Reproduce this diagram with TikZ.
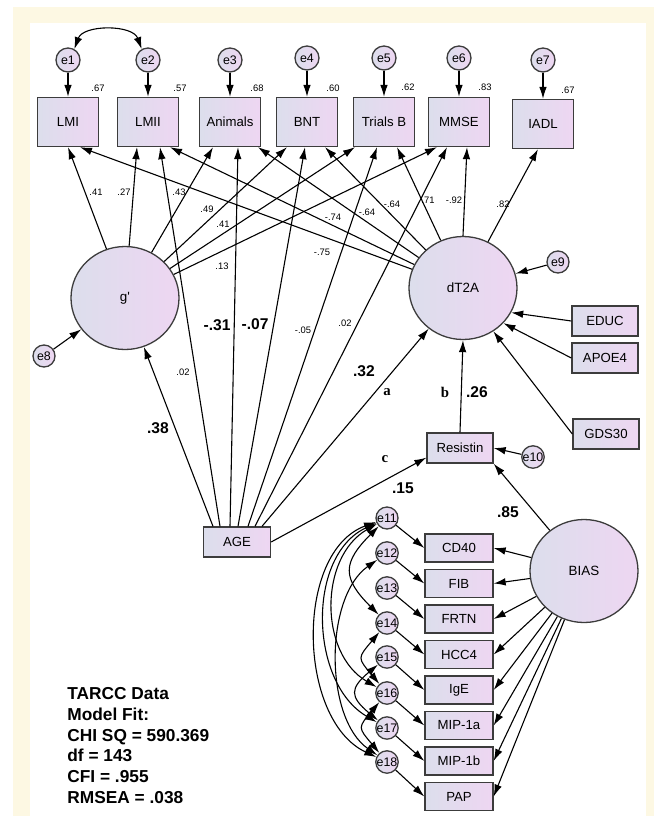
\documentclass[tikz,border=0pt]{standalone}
\usepackage{fontspec}
\setmainfont{Liberation Sans}
\newfontfamily\letterfont{Liberation Serif}
\usetikzlibrary{arrows.meta,shapes.geometric}

\definecolor{cream}{RGB}{253,248,227}
\definecolor{shadeleft}{RGB}{220,222,236}
\definecolor{shaderight}{RGB}{238,214,242}
\definecolor{rim}{RGB}{60,60,60}

\begin{document}
\begin{tikzpicture}
    [x=0.5pt,y=-0.5pt,
    obs/.style={rectangle,draw=rim,line width=0.65pt,left color=shadeleft,right color=shaderight,
    inner sep=0pt,minimum width=30.5pt,minimum height=24.5pt,font=\fontsize{6.6}{8}\selectfont},
    side/.style={obs,minimum width=33pt,minimum height=15pt},
    column/.style={obs,minimum width=34pt,minimum height=14pt},
    lat/.style={ellipse,draw=rim,line width=0.65pt,left color=shadeleft,right color=shaderight,
    inner sep=0pt,minimum width=54pt,minimum height=51.5pt,font=\fontsize{6.7}{8}\selectfont},
    err/.style={circle,draw=rim,line width=0.65pt,left color=shadeleft,right color=shaderight,
    inner sep=0pt,minimum size=12pt,font=\fontsize{6.2}{7}\selectfont},
    smallerr/.style={err,minimum size=11pt},
    regress/.style={draw,line width=0.55pt,-{Latex[length=6pt,width=3.8pt]}},
    cov/.style={draw,line width=0.55pt,{Latex[length=6pt,width=3.8pt]}-{Latex[length=6pt,width=3.8pt]}},
    coef/.style={inner sep=0pt,font=\fontsize{4.7}{5}\selectfont},
    coefbig/.style={inner sep=0pt,font=\fontsize{7.8}{9}\selectfont\bfseries},
    letter/.style={inner sep=0pt,font=\letterfont\fontsize{7.4}{9}\selectfont\bfseries},
    fitline/.style={anchor=base west,inner sep=0pt,font=\fontsize{8.65}{10}\selectfont\bfseries}]
    \useasboundingbox (0,0) rectangle (654,816);
    \fill[cream] (13,7) rectangle (654,816);
    \fill[white] (30,23) rectangle (646,816);

    \node (LMI) [obs] at (68,122) {LMI};
    \node (LMII) [obs] at (148,122) {LMII};
    \node (Animals) [obs] at (230,122) {Animals};
    \node (BNT) [obs] at (307,122) {BNT};
    \node (TrialsB) [obs] at (384,122) {Trials B};
    \node (MMSE) [obs] at (459,122) {MMSE};
    \node (IADL) [obs] at (543,124) {IADL};

    \node (e1) [err] at (68,60) {e1};
    \node (e2) [err] at (148,60) {e2};
    \node (e3) [err] at (230,60) {e3};
    \node (e4) [err] at (307,58) {e4};
    \node (e5) [err] at (384,58) {e5};
    \node (e6) [err] at (459,58) {e6};
    \node (e7) [err] at (543,60) {e7};

    \node (gprime) [lat] at (125,298) {g\textquotesingle};
    \node (dT2A) [lat] at (463,288) {dT2A};
    \node (BIAS) [lat] at (584,571) {BIAS};
    \node (e8) [smallerr] at (44,356) {e8};
    \node (e9) [smallerr] at (558,262) {e9};
    \node (e10) [smallerr] at (533,457) {e10};

    \node (EDUC) [side] at (605,321) {EDUC};
    \node (APOE4) [side] at (605,358) {APOE4};
    \node (GDS30) [side] at (606,434) {GDS30};
    \node (Resistin) [side] at (460,448) {Resistin};
    \node (AGE) [side,minimum width=33.5pt] at (237,542) {AGE};

    \node (CD40) [column] at (459,548) {CD40};
    \node (FIB) [column] at (459,583.5) {FIB};
    \node (FRTN) [column] at (459,619) {FRTN};
    \node (HCC4) [column] at (459,654.5) {HCC4};
    \node (IgE) [column] at (459,690) {IgE};
    \node (MIPa) [column] at (459,725.5) {MIP-1a};
    \node (MIPb) [column] at (459,761) {MIP-1b};
    \node (PAP) [column] at (459,796.5) {PAP};

    \node (e11) [smallerr] at (387,518) {e11};
    \node (e12) [smallerr] at (387,553) {e12};
    \node (e13) [smallerr] at (387,588) {e13};
    \node (e14) [smallerr] at (387,623) {e14};
    \node (e15) [smallerr] at (387,657) {e15};
    \node (e16) [smallerr] at (387,693) {e16};
    \node (e17) [smallerr] at (387,728) {e17};
    \node (e18) [smallerr] at (387,762) {e18};

    \draw [cov] (e1.60) to[out=70,in=110] (e2.120);
    \draw [regress] (e1) -- (LMI);
    \draw [regress] (e2) -- (LMII);
    \draw [regress] (e3) -- (Animals);
    \draw [regress] (e4) -- (BNT);
    \draw [regress] (e5) -- (TrialsB);
    \draw [regress] (e6) -- (MMSE);
    \draw [regress] (e7) -- (IADL);

    \draw [regress] (gprime) -- (LMI.south);
    \draw [regress] (gprime) -- ([xshift=-5.5pt]LMII.south);
    \draw [regress] (gprime) -- ([xshift=-8.5pt]Animals.south);
    \draw [regress] (gprime) -- ([xshift=-10pt]BNT.south);
    \draw [regress] (gprime) -- ([xshift=-14.5pt]TrialsB.south);
    \draw [regress] (gprime) -- ([xshift=-11pt]MMSE.south);

    \draw [regress] (dT2A) -- ([xshift=6pt]LMI.south);
    \draw [regress] (dT2A) -- ([xshift=11pt]LMII.south);
    \draw [regress] (dT2A) -- ([xshift=14pt]Animals.south);
    \draw [regress] (dT2A) -- ([xshift=9pt]BNT.south);
    \draw [regress] (dT2A) -- ([xshift=6.5pt]TrialsB.south);
    \draw [regress] (dT2A.north) -- ([xshift=4pt]MMSE.south);
    \draw [regress] (dT2A) -- ([xshift=-2.5pt]IADL.south);

    \draw [regress] ([xshift=-12pt]AGE.north) -- (gprime);
    \draw [regress] ([xshift=-8.5pt]AGE.north) -- ([xshift=6pt]LMII.south);
    \draw [regress] ([xshift=-3.5pt]AGE.north) -- ([xshift=4pt]Animals.south);
    \draw [regress] ([xshift=0.5pt]AGE.north) -- ([xshift=-1pt]BNT.south);
    \draw [regress] ([xshift=5.5pt]AGE.north) -- ([xshift=-3.5pt]TrialsB.south);
    \draw [regress] ([xshift=9pt]AGE.north) -- ([xshift=-6pt]MMSE.south);
    \draw [regress] ([xshift=12.5pt]AGE.north) -- (dT2A);
    \draw [regress] (AGE.east) -- ([yshift=3pt]Resistin.south west);

    \draw [regress] (e8) -- (gprime);
    \draw [regress] (e9) -- (dT2A);
    \draw [regress] (EDUC.west) -- (dT2A.-27);
    \draw [regress] (APOE4.west) -- (dT2A.-41);
    \draw [regress] (GDS30.west) -- (dT2A.-55);
    \draw [regress] (Resistin.north) -- (dT2A.south);
    \draw [regress] (e10) -- (Resistin.east);
    \draw [regress] (BIAS) -- (Resistin.south east);

    \draw [regress] (BIAS) -- (CD40.east);
    \draw [regress] (BIAS) -- (FIB.east);
    \draw [regress] (BIAS) -- (FRTN.east);
    \draw [regress] (BIAS) -- (HCC4.east);
    \draw [regress] (BIAS) -- (IgE.east);
    \draw [regress] (BIAS) -- (MIPa.east);
    \draw [regress] (BIAS) -- (MIPb.east);
    \draw [regress] (BIAS) -- (PAP.east);

    \draw [regress] (e11) -- (CD40.west);
    \draw [regress] (e12) -- (FIB.west);
    \draw [regress] (e13) -- (FRTN.west);
    \draw [regress] (e14) -- (HCC4.west);
    \draw [regress] (e15) -- (IgE.west);
    \draw [regress] (e16) -- (MIPa.west);
    \draw [regress] (e17) -- (MIPb.west);
    \draw [regress] (e18) -- (PAP.west);

    \draw [cov] (e11) to[out=225,in=135,looseness=1.5] (e14);
    \draw [cov] (e11) to[out=210,in=150,looseness=1.05] (e16);
    \draw [cov] (e11) to[out=205,in=150,looseness=1] (e17);
    \draw [cov] (e11) to[out=200,in=155,looseness=0.95] (e18);
    \draw [cov] (e12) to[out=215,in=145,looseness=0.85] (e18);
    \draw [cov] (e14) to[out=230,in=130,looseness=1.7] (e16);
    \draw [cov] (e15) to[out=220,in=140,looseness=1.7] (e17);
    \draw [cov] (e16) to[out=230,in=130,looseness=1.7] (e18);

    \node (r1) [coef] at (98,88) {.67};
    \node (r2) [coef] at (180,88) {.57};
    \node (r3) [coef] at (257,88) {.68};
    \node (r4) [coef] at (333,88) {.60};
    \node (r5) [coef] at (408,87) {.62};
    \node (r6) [coef] at (485,87) {.83};
    \node (r7) [coef] at (568,90) {.67};

    \node (g1) [coef] at (96,192) {.41};
    \node (g2) [coef] at (124,192) {.27};
    \node (g3) [coef] at (179,192) {.43};
    \node (g4) [coef] at (207,209) {.49};
    \node (g5) [coef] at (223,224) {.41};
    \node (g6) [coef] at (222,266) {.13};

    \node (d1) [coef] at (322,252) {-.75};
    \node (d2) [coef] at (333,217) {-.74};
    \node (d3) [coef] at (367,212) {-.64};
    \node (d4) [coef] at (392,204) {-.64};
    \node (d5) [coef] at (428,200) {.71};
    \node (d6) [coef] at (454,200) {-.92};
    \node (d7) [coef] at (503,204) {.82};

    \node (a1) [coefbig] at (158,428) {.38};
    \node (a2) [coef] at (183,372) {.02};
    \node (a3) [coefbig] at (217,325) {-.31};
    \node (a4) [coefbig] at (255,324) {-.07};
    \node (a5) [coef] at (303,330) {-.05};
    \node (a6) [coef] at (345,323) {.02};
    \node (a7) [coefbig] at (364,371) {.32};
    \node (a8) [coefbig] at (403,488) {.15};
    \node (b1) [coefbig] at (477,392) {.26};
    \node (b2) [coefbig] at (508,512) {.85};

    \node (la) [letter] at (387,392) {a};
    \node (lb) [letter] at (445,392) {b};
    \node (lc) [letter] at (385,459) {c};

    \node (fit1) [fitline] at (67,699.5) {TARCC Data};
    \node (fit2) [fitline] at (67,720.3) {Model Fit:};
    \node (fit3) [fitline] at (67,741.1) {CHI SQ = 590.369};
    \node (fit4) [fitline] at (67,761.9) {df = 143};
    \node (fit5) [fitline] at (67,782.7) {CFI = .955};
    \node (fit6) [fitline] at (67,803.5) {RMSEA = .038};
\end{tikzpicture}
\end{document}
